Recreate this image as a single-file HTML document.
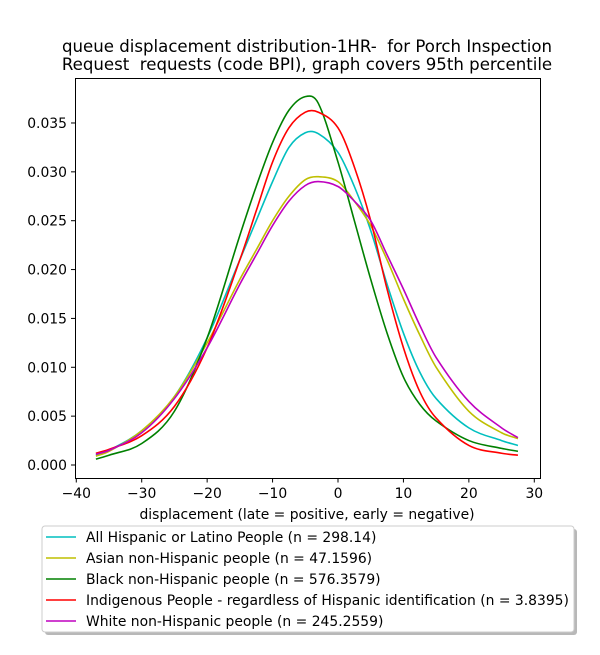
<!DOCTYPE html>
<html><head><meta charset="utf-8"><style>
body{margin:0;background:#fff;font-family:"Liberation Sans","DejaVu Sans",sans-serif;}
svg text{font-family:"DejaVu Sans","Liberation Sans",sans-serif;white-space:pre;}
</style></head><body>
<svg id="chart" width="600" height="650" xmlns="http://www.w3.org/2000/svg">
<rect width="600" height="650" fill="#fff"/>
<text x="307" y="52" font-size="16.6" text-anchor="middle">queue displacement distribution-1HR-  for Porch Inspection</text>
<text x="307" y="70" font-size="16.6" text-anchor="middle">Request  requests (code BPI), graph covers 95th percentile</text>
<g id="series"></g>
<rect x="75.5" y="78.5" width="465" height="400" fill="none" stroke="#000" stroke-width="1"/>
<g id="xticks"></g><g id="yticks"></g>
<text x="307" y="519" font-size="13.9" text-anchor="middle">displacement (late = positive, early = negative)</text>
<g>
<rect x="45" y="529" width="532" height="106" rx="3" fill="#888" opacity="0.6"/>
<rect x="42" y="526" width="532" height="106" rx="3" fill="#fff" stroke="#ccc"/>
<g id="legend-items"></g>
</g>
</svg>
<script>
const xs=[-37,-35,-30,-25,-20,-15,-12.5,-10,-7.5,-5,-3,0,2.5,5,7.5,10,12.5,15,20,25,27.5];
const hispanic=[.001,.0015,.0035,.007,.013,.021,.025,.029,.0325,.034,.0339,.032,.0285,.024,.0185,.0135,.0095,.0068,.0038,.0025,.002];
const asian=[.0009,.0014,.0035,.007,.0125,.019,.022,.025,.0275,.0292,.0295,.029,.027,.0245,.021,.017,.0133,.010,.0055,.0033,.0027];
const black=[.0006,.001,.0022,.0055,.013,.0235,.0285,.033,.0363,.0377,.0370,.031,.025,.019,.0135,.009,.0062,.0045,.0025,.0017,.0014];
const indigenous=[.0012,.0016,.003,.006,.012,.021,.026,.031,.0345,.0361,.0361,.0345,.0305,.025,.018,.012,.0075,.0048,.002,.0012,.001];
const white=[.0011,.0015,.0033,.0068,.012,.0185,.0215,.0245,.027,.0286,.029,.0285,.027,.025,.0215,.018,.0143,.011,.0065,.0038,.0028];
const labels=["All Hispanic or Latino People (n = 298.14)","Asian non-Hispanic people (n = 47.1596)","Black non-Hispanic people (n = 576.3579)","Indigenous People - regardless of Hispanic identification (n = 3.8395)","White non-Hispanic people (n = 245.2559)"];
const colors=["#00bfbf","#bfbf00","#008000","#ff0000","#bf00bf"];
const xTicks=[-40,-30,-20,-10,0,10,20,30];
const yTicks=[0,0.005,0.010,0.015,0.020,0.025,0.030,0.035];
const NS="http://www.w3.org/2000/svg";
const X=v=>338+v*6.543;
const Y=v=>465-v*9772;
function mk(t,a,p){const e=document.createElementNS(NS,t);for(const k in a)e.setAttribute(k,a[k]);p.appendChild(e);return e;}
function path(ys){const p=xs.map((x,i)=>[X(x),Y(ys[i])]);let d="M"+p[0][0]+","+p[0][1];
for(let i=0;i<p.length-1;i++){const p0=p[Math.max(0,i-1)],p1=p[i],p2=p[i+1],p3=p[Math.min(p.length-1,i+2)];
const h=p2[0]-p1[0];
const m1=(p2[1]-p0[1])/(p2[0]-p0[0]||1), m2=(p3[1]-p1[1])/(p3[0]-p1[0]||1);
d+=" C"+(p1[0]+h/3)+","+(p1[1]+m1*h/3)+" "+(p2[0]-h/3)+","+(p2[1]-m2*h/3)+" "+p2[0]+","+p2[1];}return d;}
const sg=document.getElementById("series");
const all=[hispanic,asian,black,indigenous,white];
const names=["series-hispanic","series-asian","series-black","series-indigenous","series-white"];
all.forEach((s,i)=>{const e=mk("path",{d:path(s),fill:"none",stroke:colors[i],"stroke-width":1.6},sg);

});
const xg=document.getElementById("xticks");
xTicks.forEach(t=>{mk("line",{x1:X(t),x2:X(t),y1:478.5,y2:482.5,stroke:"#000"},xg);
const e=mk("text",{x:X(t),y:498,"font-size":13.9,"text-anchor":"middle"},xg);e.textContent=(t<0?"\u2212"+(-t):t);

});
const yg=document.getElementById("yticks");
yTicks.forEach(t=>{mk("line",{x1:71,x2:75.5,y1:Y(t),y2:Y(t),stroke:"#000"},yg);
const e=mk("text",{x:67,y:Y(t)+5,"font-size":13.9,"text-anchor":"end"},yg);e.textContent=t.toFixed(3);

});
const lg=document.getElementById("legend-items");
labels.forEach((l,i)=>{const y=537+i*21;mk("line",{x1:46,x2:76,y1:y,y2:y,stroke:colors[i],"stroke-width":1.6},lg);
const e=mk("text",{x:86,y:y+5,"font-size":13.9},lg);e.textContent=l;

});
</script>
</body></html>
